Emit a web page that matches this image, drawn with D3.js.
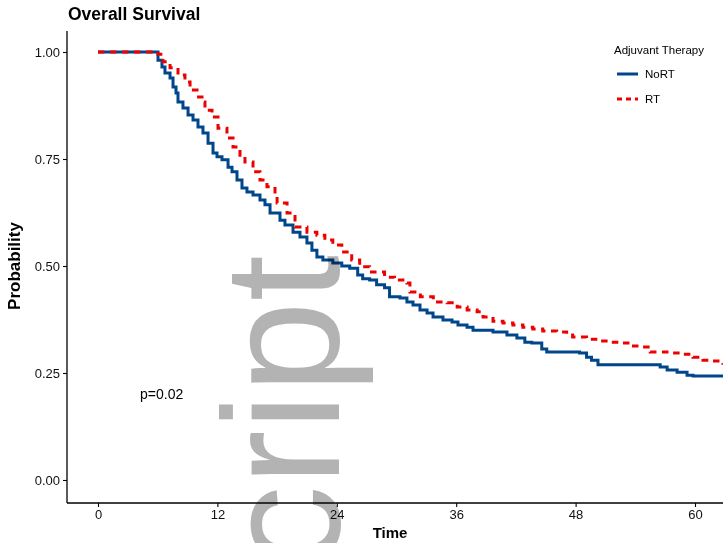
<!DOCTYPE html>
<html>
<head>
<meta charset="utf-8">
<script src="https://cdn.jsdelivr.net/npm/d3@7"></script>
<style>
  html, body { margin: 0; padding: 0; background: #fff; }
  svg { display: block; }
  text { font-family: "Liberation Sans", Arial, Helvetica, sans-serif; }
</style>
</head>
<body>
<svg id="chart" width="723" height="543"></svg>
<script>
// ---- data ----
const seriesNames = ["NoRT", "RT"];
const seriesColors = ["#00468B", "#ED0000"];
const xTicks = [0, 12, 24, 36, 48, 60];
const yTicks = [0, 0.25, 0.5, 0.75, 1];
const yTickLabels = ["0.00", "0.25", "0.50", "0.75", "1.00"];
const pValueText = "p=0.02";

const noRTTime = [0, 6.03, 6.43, 6.73, 7.24, 7.54, 7.84, 8.04, 8.54, 9.05, 9.55, 10.05, 10.55, 11.06, 11.56, 11.96, 12.46, 13.07, 13.47, 13.97, 14.47, 14.97, 15.58, 16.28, 16.78, 17.29, 18.29, 18.79, 19.6, 20.3, 21.0, 21.5, 22.0, 22.6, 23.6, 24.5, 25.3, 26.1, 26.6, 27.3, 28.0, 28.8, 29.3, 30.35, 31.05, 31.66, 32.36, 33.07, 33.67, 34.67, 35.58, 36.18, 37.09, 37.69, 39.7, 41.1, 42.1, 42.9, 43.6, 44.6, 45.1, 48.4, 49.1, 49.6, 50.25, 56.5, 57.2, 58.2, 59.2, 59.8, 60.5, 63.5];
const noRTSurv = [1.0, 0.981, 0.965, 0.951, 0.939, 0.918, 0.904, 0.883, 0.869, 0.853, 0.841, 0.825, 0.811, 0.787, 0.764, 0.755, 0.748, 0.731, 0.720, 0.701, 0.682, 0.673, 0.666, 0.654, 0.643, 0.624, 0.607, 0.596, 0.579, 0.568, 0.554, 0.537, 0.521, 0.514, 0.507, 0.500, 0.495, 0.479, 0.470, 0.467, 0.456, 0.449, 0.428, 0.425, 0.416, 0.409, 0.397, 0.390, 0.381, 0.374, 0.369, 0.362, 0.357, 0.350, 0.346, 0.339, 0.332, 0.322, 0.320, 0.306, 0.299, 0.297, 0.287, 0.280, 0.269, 0.264, 0.257, 0.252, 0.245, 0.243, 0.243];

const rtTime = [0, 6.03, 6.53, 7.24, 8.04, 8.74, 9.25, 9.95, 10.45, 10.75, 11.46, 12.06, 12.96, 13.57, 14.27, 14.77, 15.58, 16.28, 16.98, 17.79, 18.0, 19.0, 19.8, 21.0, 22.0, 22.8, 23.6, 24.5, 25.5, 26.3, 27.3, 28.8, 29.8, 31.05, 31.35, 32.4, 33.7, 35.1, 36.1, 37.1, 38.1, 38.7, 39.7, 40.7, 41.7, 42.7, 43.7, 44.7, 46.1, 47.1, 47.7, 49.1, 50.5, 51.5, 52.5, 53.5, 54.5, 55.5, 57.5, 58.8, 59.8, 60.8, 61.8, 62.8, 63.5];
const rtSurv = [1.0, 0.995, 0.977, 0.963, 0.946, 0.930, 0.911, 0.895, 0.883, 0.864, 0.848, 0.822, 0.799, 0.778, 0.759, 0.743, 0.720, 0.701, 0.685, 0.666, 0.647, 0.624, 0.591, 0.579, 0.572, 0.561, 0.549, 0.533, 0.514, 0.498, 0.486, 0.474, 0.467, 0.460, 0.439, 0.428, 0.416, 0.414, 0.404, 0.397, 0.393, 0.381, 0.371, 0.367, 0.362, 0.357, 0.353, 0.348, 0.346, 0.339, 0.334, 0.329, 0.325, 0.322, 0.320, 0.313, 0.311, 0.299, 0.297, 0.294, 0.287, 0.280, 0.278, 0.273, 0.273];

// ---- layout ----
const svg = d3.select("#chart");
const x = d3.scaleLinear().domain([0, 60]).range([98, 695]);
const y = d3.scaleLinear().domain([0, 1]).range([480, 52]);
const panelLeft = 67, panelBottom = 503, panelTop = 31;

svg.append("defs").append("clipPath").attr("id", "plotclip")
  .append("rect").attr("x", panelLeft).attr("y", 0).attr("width", 723 - panelLeft).attr("height", panelBottom);

const series = [
  { name: seriesNames[0], color: seriesColors[0], dash: null, pts: noRTTime.map((t, i) => [t, noRTSurv[i]]) },
  { name: seriesNames[1], color: seriesColors[1], dash: "6.5,5.5", pts: rtTime.map((t, i) => [t, rtSurv[i]]) }
];

const line = d3.line().x(d => x(d[0])).y(d => y(d[1])).curve(d3.curveStepAfter);

const g = svg.append("g").attr("clip-path", "url(#plotclip)");
series.forEach(s => {
  g.append("path")
    .datum(s.pts)
    .attr("d", line)
    .attr("fill", "none")
    .attr("stroke", s.color)
    .attr("stroke-width", 3)
    .attr("stroke-linejoin", "miter")
    .attr("stroke-dasharray", s.dash);
});

// axes
const xAxis = d3.axisBottom(x).tickValues(xTicks).tickSize(4).tickPadding(3).tickFormat(d3.format("d"));
const yAxis = d3.axisLeft(y).tickValues(yTicks).tickSize(4).tickPadding(3).tickFormat((d, i) => yTickLabels[i]);

const gx = svg.append("g").attr("transform", `translate(0,${panelBottom})`).call(xAxis);
gx.select(".domain").remove();
gx.append("line").attr("x1", panelLeft).attr("x2", 730).attr("y1", 0).attr("y2", 0).attr("stroke", "#000").attr("stroke-width", 1.3);
gx.selectAll(".tick line").attr("stroke", "#000").attr("stroke-width", 1.1);
gx.selectAll(".tick text").attr("font-size", 13).attr("fill", "#111").attr("font-family", "Liberation Sans, Arial, sans-serif");

const gy = svg.append("g").attr("transform", `translate(${panelLeft},0)`).call(yAxis);
gy.select(".domain").remove();
gy.append("line").attr("x1", 0).attr("x2", 0).attr("y1", panelTop).attr("y2", panelBottom).attr("stroke", "#000").attr("stroke-width", 1.3);
gy.selectAll(".tick line").attr("stroke", "#000").attr("stroke-width", 1.1);
gy.selectAll(".tick text").attr("font-size", 13).attr("fill", "#111").attr("font-family", "Liberation Sans, Arial, sans-serif");

// titles
svg.append("text").attr("x", 68).attr("y", 20).attr("font-size", 17.5).attr("font-weight", "bold").attr("fill", "#000").text("Overall Survival");
svg.append("text").attr("transform", "translate(20,266) rotate(-90)").attr("text-anchor", "middle")
  .attr("font-size", 17).attr("font-weight", "bold").attr("fill", "#000").text("Probability");
svg.append("text").attr("x", 390).attr("y", 538).attr("text-anchor", "middle")
  .attr("font-size", 15).attr("font-weight", "bold").attr("fill", "#000").text("Time");

// p value
svg.append("text").attr("x", 140).attr("y", 399).attr("font-size", 14).attr("fill", "#000").text(pValueText);

// legend
const lg = svg.append("g");
lg.append("text").attr("x", 614).attr("y", 54).attr("font-size", 11.5).attr("fill", "#000").text("Adjuvant Therapy");
series.forEach((s, i) => {
  const yy = 74 + i * 25;
  lg.append("line").attr("x1", 617).attr("x2", 638).attr("y1", yy).attr("y2", yy)
    .attr("stroke", s.color).attr("stroke-width", 3).attr("stroke-dasharray", s.dash ? "5,4" : null);
  lg.append("text").attr("x", 645).attr("y", yy + 4).attr("font-size", 11.5).attr("fill", "#000").text(s.name);
});

// watermark
svg.append("text").attr("transform", "translate(339,255) rotate(-90)")
  .attr("text-anchor", "end").attr("font-size", 166).attr("fill", "#b3b3b3")
  .style("mix-blend-mode", "multiply")
  .text("script");
</script>
</body>
</html>
